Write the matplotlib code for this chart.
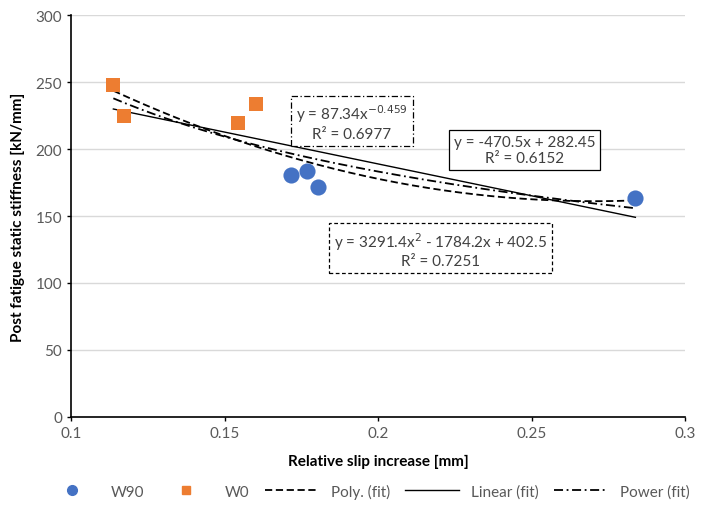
import numpy as np
import matplotlib
matplotlib.use("Agg")
import matplotlib.pyplot as plt
from matplotlib.lines import Line2D

plt.rcParams['font.family'] = ['Lato', 'DejaVu Sans']

# data
w90_x = [0.1715, 0.1767, 0.1803, 0.2837]
w90_y = [180.5, 184.0, 172.0, 163.5]
w0_x = [0.1137, 0.1172, 0.1543, 0.1602]
w0_y = [248.0, 225.0, 219.5, 234.0]

power_label = "y = 87.34x$^{-0.459}$\nR² = 0.6977"
linear_label = "y = -470.5x + 282.45\nR² = 0.6152"
poly_label = "y = 3291.4x$^{2}$ - 1784.2x + 402.5\nR² = 0.7251"

x_ticks = [0.1, 0.15, 0.2, 0.25, 0.3]
y_ticks = [0, 50, 100, 150, 200, 250, 300]

blue = "#4472C4"
orange = "#ED7D31"
grey = "#595959"

# trendlines fitted on all points, like excel does
all_x = np.array(w90_x + w0_x)
all_y = np.array(w90_y + w0_y)
xs = np.linspace(all_x.min(), all_x.max(), 200)
lin = np.polyfit(all_x, all_y, 1)
quad = np.polyfit(all_x, all_y, 2)
pw = np.polyfit(np.log(all_x), np.log(all_y), 1)

fig = plt.figure(figsize=(7.2, 5.1), dpi=100)
ax = fig.add_axes([0.099, 0.181, 0.853, 0.787])

ax.yaxis.grid(True, color="#D9D9D9", linewidth=1)
ax.set_axisbelow(True)

ax.plot(xs, np.polyval(quad, xs), color="black", linestyle=(0, (4, 2)), linewidth=1.3, zorder=2)
ax.plot(xs, np.polyval(lin, xs), color="black", linestyle="-", linewidth=1.0, zorder=2)
ax.plot(xs, np.exp(pw[1]) * xs ** pw[0], color="black", linestyle=(0, (5, 2, 1, 2)), linewidth=1.3, zorder=2)

ax.scatter(w90_x, w90_y, s=135, color=blue, marker="o", zorder=3, linewidths=0)
ax.scatter(w0_x, w0_y, s=95, color=orange, marker="s", zorder=3, linewidths=0)

ax.text(0.1914, 220.5, power_label, ha="center", va="center", fontsize=11, color="#404040",
        linespacing=1.2,
        bbox=dict(boxstyle="square,pad=0.33", fc="white", ec="black", lw=0.9, ls=(0, (5, 2, 1, 2))))
ax.text(0.2476, 199.5, linear_label, ha="center", va="center", fontsize=11, color="#404040",
        linespacing=1.2,
        bbox=dict(boxstyle="square,pad=0.33", fc="white", ec="black", lw=0.9))
ax.text(0.2203, 125, poly_label, ha="center", va="center", fontsize=11, color="#404040",
        linespacing=1.2,
        bbox=dict(boxstyle="square,pad=0.33", fc="white", ec="black", lw=0.9, ls=(0, (3, 2))))

ax.set_xlim(0.1, 0.3)
ax.set_ylim(0, 300)
ax.set_xticks(x_ticks)
ax.set_xticklabels([str(t) for t in x_ticks])
ax.set_yticks(y_ticks)
ax.tick_params(axis="both", colors=grey, labelsize=11, direction="out", length=3, width=1)
ax.tick_params(axis="both", color="black")
for s in ["top", "right"]:
    ax.spines[s].set_visible(False)
for s in ["left", "bottom"]:
    ax.spines[s].set_color("black")
    ax.spines[s].set_linewidth(1.2)

ax.set_xlabel("Relative slip increase [mm]", fontsize=11, fontweight="bold", labelpad=10)
ax.set_ylabel("Post fatigue static stiffness [kN/mm]", fontsize=11, fontweight="bold", labelpad=8)

handles = [
    Line2D([], [], marker="o", color=blue, linestyle="none", markersize=7),
    Line2D([], [], marker="s", color=orange, linestyle="none", markersize=6),
    Line2D([], [], color="black", linestyle=(0, (4, 2)), linewidth=1.3),
    Line2D([], [], color="black", linestyle="-", linewidth=1.0),
    Line2D([], [], color="black", linestyle=(0, (5, 2, 1, 2)), linewidth=1.3),
]
labels = ["W90", "W0", "Poly. (fit)", "Linear (fit)", "Power (fit)"]
fig.legend(handles, labels, loc="center", bbox_to_anchor=(0.51, 0.035), ncol=5, frameon=False,
           fontsize=11, labelcolor=grey, handlelength=3.5, columnspacing=1.0)

fig.savefig("out.png", dpi=100)
